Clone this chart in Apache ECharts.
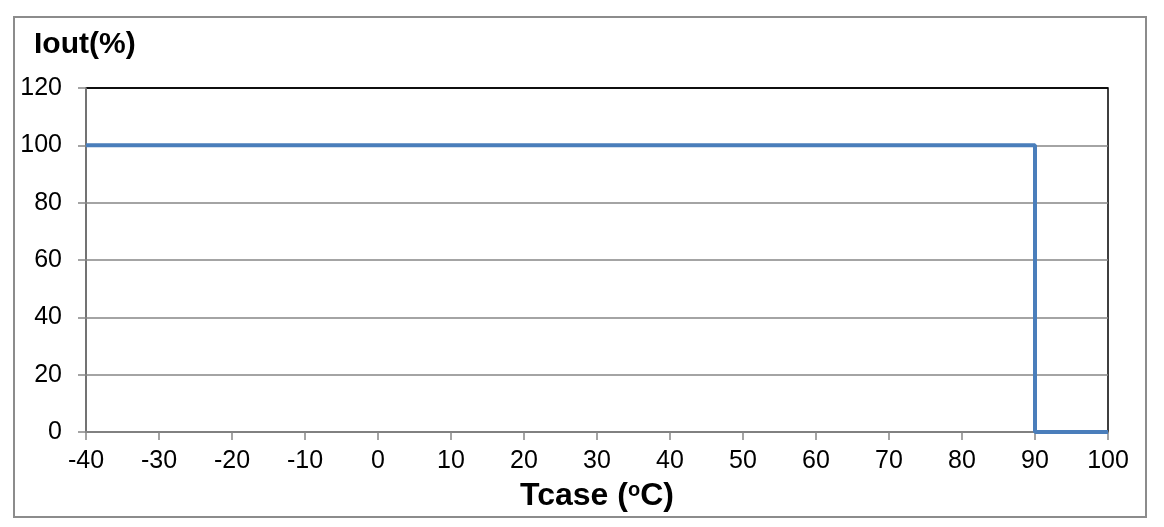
<!DOCTYPE html>
<html>
<head>
<meta charset="utf-8">
<script src="https://cdn.jsdelivr.net/npm/echarts@6/dist/echarts.min.js"></script>
<style>html,body{margin:0;padding:0;background:#fff}#c{width:1164px;height:527px}</style>
</head>
<body>
<div id="c"></div>
<script>
const tempC = [-40, 90, 90, 100];
const ioutPct = [100, 100, 0, 0];
const yTitle = 'Iout(%)';
const xTitle = 'Tcase';

const chart = echarts.init(document.getElementById('c'));
const font = '"Liberation Sans", Arial, sans-serif';
const g = '#868686';
chart.setOption({
  animation: false,
  backgroundColor: '#fff',
  graphic: [{
    type: 'rect', shape: {x: 14, y: 17, width: 1132, height: 500},
    style: {fill: 'none', stroke: '#8c8c8c', lineWidth: 2}, z: 0
  }],
  title: {
    text: yTitle, left: 34, top: 30, padding: 0,
    textStyle: {fontFamily: font, fontSize: 30, fontWeight: 'bold', color: '#000'}
  },
  grid: {left: 86, right: 56, top: 88, bottom: 95, show: true, borderColor: '#000', borderWidth: 1.5, backgroundColor: 'transparent'},
  xAxis: {
    type: 'value', min: -40, max: 100, interval: 10,
    name: '{b|' + xTitle + ' (}{s|o}{b|C)}',
    nameLocation: 'middle', nameGap: 48,
    nameTextStyle: {rich: {
      b: {fontFamily: font, fontSize: 32, fontWeight: 'bold', color: '#000'},
      s: {fontFamily: font, fontSize: 20, fontWeight: 'bold', color: '#000', verticalAlign: 'top', padding: [0,0,10,0]}
    }},
    axisLine: {onZero: false, lineStyle: {color: g, width: 1.5}},
    axisTick: {show: true, length: 8, lineStyle: {color: g, width: 1.5}},
    axisLabel: {fontFamily: font, fontSize: 25, color: '#000', margin: 17},
    splitLine: {show: false}
  },
  yAxis: {
    type: 'value', min: 0, max: 120, interval: 20,
    axisLine: {show: true, onZero: false, lineStyle: {color: g, width: 1.5}},
    axisTick: {show: true, length: 8, lineStyle: {color: g, width: 1.5}},
    axisLabel: {fontFamily: font, fontSize: 25, color: '#000', margin: 24},
    splitLine: {show: true, lineStyle: {color: [g, g, g, g, g, g, '#000'], width: 1.5}}
  },
  series: [{
    type: 'line',
    data: tempC.map((t, i) => [t, ioutPct[i]]),
    showSymbol: false, symbol: 'none',
    lineStyle: {color: '#4a7ebb', width: 4},
    z: 5
  }]
});
</script>
</body>
</html>
